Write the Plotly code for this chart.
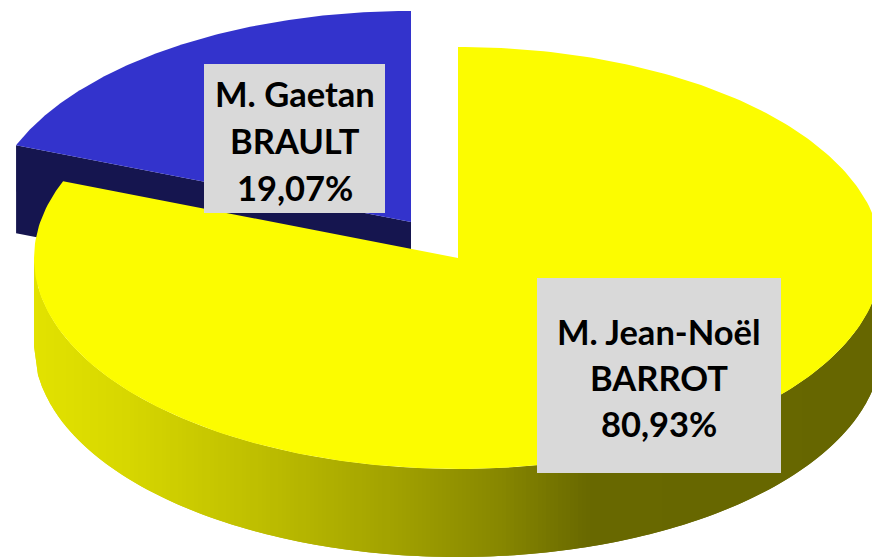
import math
import plotly.graph_objects as go

# --- data ---
candidates = ["M. Jean-Noël BARROT", "M. Gaetan BRAULT"]
shares = [80.93, 19.07]
label_lines = [["M. Jean-Noël", "BARROT", "80,93%"], ["M. Gaetan", "BRAULT", "19,07%"]]

# --- style / geometry of the projected 3D pie (pixels) ---
W, H = 872, 557
RX, RY, DEPTH = 424, 211, 88
YELLOW_C = (458, 258)
BLUE_C = (411, 222)
YELLOW, BLUE, BLUE_DARK = "#FCFC00", "#3333CC", "#15154F"
LABEL_BOX = [(537, 278, 781, 473), (204, 64, 385, 213)]
LABEL_Y = [[331, 377, 423], [93, 140, 187]]
# side shading: x pixel -> grey-level of the yellow
SHADE = [(34, 226), (120, 216), (260, 190), (400, 160), (500, 135), (590, 104), (872, 102)]


def pt(c, deg, dy=0):
    t = math.radians(deg)
    return c[0] + RX * math.sin(t), c[1] - RY * math.cos(t) + dy


def arc(c, a0, a1, n=160):
    pts = [pt(c, a0 + (a1 - a0) * i / n) for i in range(n + 1)]
    return [p[0] for p in pts], [p[1] for p in pts]


def shade(x):
    for (x0, v0), (x1, v1) in zip(SHADE, SHADE[1:]):
        if x <= x1:
            return round(v0 + (v1 - v0) * max(x - x0, 0) / (x1 - x0))
    return SHADE[-1][1]


def poly(xs, ys, color, name):
    return go.Scatter(x=xs, y=ys, mode="lines", fill="toself", fillcolor=color,
                      line=dict(color=color, width=0), hoverinfo="skip",
                      showlegend=False, name=name)


yellow_end = shares[0] / sum(shares) * 360

fig = go.Figure()

# blue (exploded) slice: cut face, then top
cx, cy = pt(BLUE_C, yellow_end)
fig.add_trace(poly([cx, BLUE_C[0], BLUE_C[0], cx, cx],
                   [cy, BLUE_C[1], BLUE_C[1] + DEPTH, cy + DEPTH, cy],
                   BLUE_DARK, candidates[1]))
bx, by = arc(BLUE_C, yellow_end, 360)
fig.add_trace(poly([BLUE_C[0]] + bx + [BLUE_C[0]], [BLUE_C[1]] + by + [BLUE_C[1]], BLUE, candidates[1]))

# yellow slice: shaded outer wall as overlapping vertical strips (right to left), then top
STRIPS = 212


def wall_angle(i):
    u = min(i / STRIPS, 1.0) * 2 - 1
    return 270 - math.degrees(math.acos(u))


for i in range(STRIPS):
    a0, amid, a1 = wall_angle(i), wall_angle(i + 1), wall_angle(i + 2)
    x0, y0 = pt(YELLOW_C, a0)
    xm, ym = pt(YELLOW_C, amid)
    x1, y1 = pt(YELLOW_C, a1)
    v = shade((x0 + xm) / 2)
    fig.add_trace(poly([x0, xm, x1, x1, xm, x0, x0],
                       [y0, ym, y1, y1 + DEPTH, ym + DEPTH, y0 + DEPTH, y0],
                       f"rgb({v},{v},0)", candidates[0]))
yx, yy = arc(YELLOW_C, 0, yellow_end, 300)
fig.add_trace(poly([YELLOW_C[0]] + yx + [YELLOW_C[0]], [YELLOW_C[1]] + yy + [YELLOW_C[1]], YELLOW, candidates[0]))

# labels
annotations = []
for box, lines, ys in zip(LABEL_BOX, label_lines, LABEL_Y):
    x0, y0, x1, y1 = box
    annotations.append(dict(x=(x0 + x1) / 2, y=(y0 + y1) / 2, xref="x", yref="y", text=" ",
                            showarrow=False, bgcolor="#D9D9D9", width=x1 - x0, height=y1 - y0,
                            borderpad=0, borderwidth=0, font=dict(size=10)))
    for line, ly in zip(lines, ys):
        annotations.append(dict(x=(x0 + x1) / 2, y=ly, xref="x", yref="y", text=f"<b>{line}</b>",
                                showarrow=False, xanchor="center", yanchor="middle",
                                font=dict(family="Lato", size=34.5, color="#000000")))

fig.update_layout(
    width=W, height=H, margin=dict(l=0, r=0, t=0, b=0), autosize=False,
    paper_bgcolor="white", plot_bgcolor="white", showlegend=False,
    xaxis=dict(range=[0, W], visible=False, fixedrange=True),
    yaxis=dict(range=[H, 0], visible=False, fixedrange=True),
    annotations=annotations,
)
fig.write_html("out.html", config={"displayModeBar": False},
               post_script="document.body.style.margin='0';document.documentElement.style.overflow='hidden';")
